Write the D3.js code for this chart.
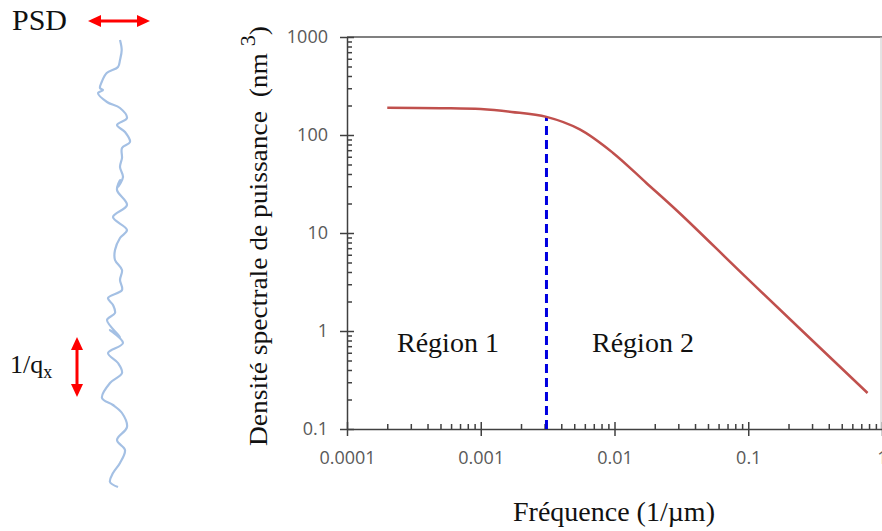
<!DOCTYPE html>
<html>
<head>
<meta charset="utf-8">
<script src="https://cdn.jsdelivr.net/npm/d3@7"></script>
<style>
body { margin: 0; background: #fff; }
text { white-space: pre; }
.tick text { font-family: "Open Sans", "Noto Sans", sans-serif; font-size: 18px; fill: #595959; }
.serif { font-family: "Liberation Serif", "DejaVu Serif", serif; fill: #111; }
</style>
</head>
<body>
<svg id="chart" width="882" height="531"></svg>
<script>
// courbe DSP
const freq = [0.0002, 0.0005, 0.001, 0.0017, 0.0031, 0.0055, 0.0097, 0.0173, 0.0306, 0.1, 0.78];
const psd = [190, 188, 184, 172, 153, 114, 66, 32.4, 16.0, 3.36, 0.233];

// séparation région 1 / région 2
const cutFreq = 0.0031;
const cutPsd = 153;

// graduations
const xMajor = [0.0001, 0.001, 0.01, 0.1, 1];
const xLabels = ["0.0001", "0.001", "0.01", "0.1", "1"];
const yMajor = [0.1, 1, 10, 100, 1000];
const yLabels = ["0.1", "1", "10", "100", "1000"];

// profil de rugosité (x en px, y en px)
const profX = [120, 121.7, 120, 118, 106.7, 101.7, 100, 103, 98, 107, 120, 127, 117, 125, 130, 122, 122, 120, 123, 118,
  120, 117, 127, 113, 127, 120, 115, 115, 122, 120, 122, 108, 113, 115, 107, 120,
  110, 123, 108, 118, 122, 110, 102, 113, 122, 127, 117, 125, 120, 113, 110, 118];
const profY = [40, 50, 60, 67, 73, 82, 88, 90, 93, 102, 108, 118, 125, 132, 142, 148, 158, 167, 177, 187,
  180, 190, 205, 217, 230, 238, 250, 260, 270, 280, 290, 298, 305, 313, 320, 337,
  330, 343, 353, 363, 373, 383, 398, 405, 413, 427, 440, 450, 463, 473, 482, 487];

const svg = d3.select("#chart");

const x = d3.scaleLog().domain([0.0001, 1]).range([347, 882]);
const y = d3.scaleLog().domain([0.1, 1000]).range([429, 37]);

// cadre haut / droite
svg.append("line").attr("x1", 347).attr("x2", 882).attr("y1", 37).attr("y2", 37)
  .attr("stroke", "#808080").attr("stroke-width", 2);
svg.append("line").attr("x1", 881).attr("x2", 881).attr("y1", 37).attr("y2", 429)
  .attr("stroke", "#c8c8c8").attr("stroke-width", 1);

// axe Y
svg.append("g")
  .attr("transform", "translate(347,0)")
  .call(d3.axisLeft(y).tickValues(yMajor).tickFormat((d, i) => yLabels[i])
    .tickSizeInner(7).tickSizeOuter(0).tickPadding(12));
svg.append("g").attr("transform", "translate(347,0)")
  .call(d3.axisRight(y).tickValues(y.ticks().filter(d => yMajor.indexOf(d) < 0)).tickFormat("").tickSize(5).tickSizeOuter(0))
  .select(".domain").remove();
svg.append("g").attr("transform", "translate(347,0)")
  .call(d3.axisRight(y).tickValues(yMajor).tickFormat("").tickSize(7).tickSizeOuter(0))
  .select(".domain").remove();

// axe X
svg.append("g")
  .attr("transform", "translate(0,429)")
  .call(d3.axisBottom(x).tickValues(xMajor).tickFormat((d, i) => xLabels[i])
    .tickSizeInner(7).tickSizeOuter(0).tickPadding(15));
svg.append("g").attr("transform", "translate(0,429)")
  .call(d3.axisTop(x).tickValues(x.ticks().filter(d => xMajor.indexOf(d) < 0)).tickFormat("").tickSize(5).tickSizeOuter(0))
  .select(".domain").remove();
svg.append("g").attr("transform", "translate(0,429)")
  .call(d3.axisTop(x).tickValues(xMajor).tickFormat("").tickSize(7).tickSizeOuter(0))
  .select(".domain").remove();

svg.selectAll(".domain, .tick line").attr("stroke", "#404040").attr("stroke-width", 1.5);

// ligne de séparation
svg.append("line")
  .attr("x1", x(cutFreq)).attr("x2", x(cutFreq))
  .attr("y1", y(0.1)).attr("y2", y(cutPsd))
  .attr("stroke", "#0000e0").attr("stroke-width", 3).attr("stroke-dasharray", "9,5");

// courbe
const line = d3.line()
  .x((d, i) => x(freq[i]))
  .y((d, i) => y(psd[i]))
  .curve(d3.curveCatmullRom.alpha(0.5));
svg.append("path").datum(freq)
  .attr("d", line)
  .attr("fill", "none").attr("stroke", "#c0504d").attr("stroke-width", 2.5);

// textes
svg.append("text").attr("class", "serif").attr("x", 397).attr("y", 352).attr("font-size", 28).text("Région 1");
svg.append("text").attr("class", "serif").attr("x", 592).attr("y", 352).attr("font-size", 28).text("Région 2");
svg.append("text").attr("class", "serif").attr("x", 614).attr("y", 521).attr("font-size", 28)
  .attr("text-anchor", "middle").text("Fréquence (1/µm)");

const yt = svg.append("text").attr("class", "serif")
  .attr("transform", "translate(267,236) rotate(-90)")
  .attr("text-anchor", "middle").attr("font-size", 26)
  .attr("textLength", 420).attr("lengthAdjust", "spacingAndGlyphs");
yt.append("tspan").text("Densité spectrale de puissance  (nm ");
yt.append("tspan").attr("baseline-shift", "super").attr("font-size", 21).text("3");
yt.append("tspan").text(")");

// schéma du profil
const prof = d3.line().x((d, i) => profX[i]).y((d, i) => profY[i]).curve(d3.curveCatmullRom);
svg.append("path").datum(profX)
  .attr("d", prof)
  .attr("fill", "none").attr("stroke", "#a4c0e4").attr("stroke-width", 2.2)
  .attr("stroke-linejoin", "round");

svg.append("text").attr("class", "serif").attr("x", 12).attr("y", 30).attr("font-size", 30).text("PSD");
const qt = svg.append("text").attr("class", "serif").attr("x", 10).attr("y", 373).attr("font-size", 26);
qt.append("tspan").text("1/q");
qt.append("tspan").attr("font-size", 18).attr("dy", 5).text("x");

// flèches
function arrowH(x1, x2, yy) {
  svg.append("line").attr("x1", x1 + 10).attr("x2", x2 - 10).attr("y1", yy).attr("y2", yy)
    .attr("stroke", "#ff0000").attr("stroke-width", 3);
  svg.append("path").attr("d", `M${x1},${yy}L${x1 + 13},${yy - 6}L${x1 + 13},${yy + 6}Z`).attr("fill", "#ff0000");
  svg.append("path").attr("d", `M${x2},${yy}L${x2 - 13},${yy - 6}L${x2 - 13},${yy + 6}Z`).attr("fill", "#ff0000");
}
function arrowV(xx, y1, y2) {
  svg.append("line").attr("x1", xx).attr("x2", xx).attr("y1", y1 + 10).attr("y2", y2 - 10)
    .attr("stroke", "#ff0000").attr("stroke-width", 3);
  svg.append("path").attr("d", `M${xx},${y1}L${xx - 6},${y1 + 13}L${xx + 6},${y1 + 13}Z`).attr("fill", "#ff0000");
  svg.append("path").attr("d", `M${xx},${y2}L${xx - 6},${y2 - 13}L${xx + 6},${y2 - 13}Z`).attr("fill", "#ff0000");
}
arrowH(88, 150, 21);
arrowV(77, 337, 397);
</script>
</body>
</html>
